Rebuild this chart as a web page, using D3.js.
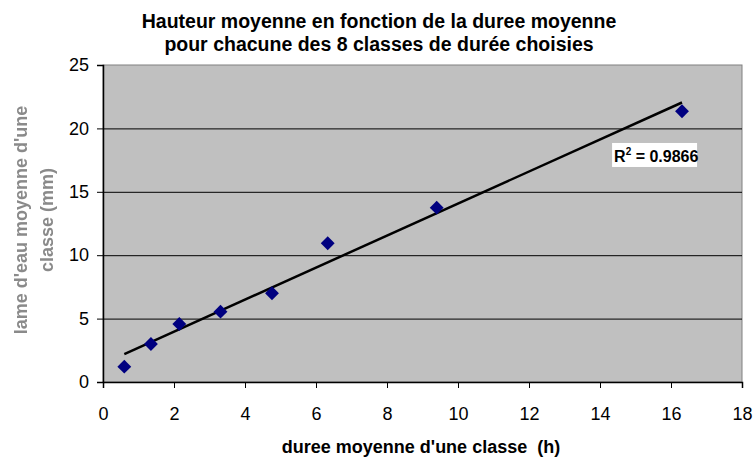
<!DOCTYPE html>
<html>
<head>
<meta charset="utf-8">
<script src="https://cdn.jsdelivr.net/npm/d3@7"></script>
<style>
  body { margin: 0; background: #fff; }
  text { font-family: "Liberation Sans", Arial, sans-serif; }
</style>
</head>
<body>
<svg id="chart" width="754" height="457"></svg>
<script>
// durée moyenne (h) et lame d'eau moyenne (mm) des 8 classes
var durees = [0.60, 1.35, 2.15, 3.31, 4.76, 6.33, 9.40, 16.31];
var hauteurs = [1.21, 3.0, 4.57, 5.55, 7.0, 10.94, 13.75, 21.35];
var xTicks = [0, 2, 4, 6, 8, 10, 12, 14, 16, 18];
var yTicks = [0, 5, 10, 15, 20, 25];
var r2Label = "0.9866";

var width = 754, height = 457;
var margin = {top: 65, right: 12, bottom: 75, left: 103};

var svg = d3.select("#chart");

var x = d3.scaleLinear().domain([0, 18]).range([margin.left, width - margin.right]);
var y = d3.scaleLinear().domain([0, 25]).range([height - margin.bottom, margin.top]);

var data = durees.map(function(d, i) { return {x: d, y: hauteurs[i]}; });

// blur for the grey y label
svg.append("defs").append("filter").attr("id", "blur")
  .append("feGaussianBlur").attr("stdDeviation", 0.7);

// plot area
svg.append("rect")
  .attr("x", x(0)).attr("y", y(25))
  .attr("width", x(18) - x(0)).attr("height", y(0) - y(25))
  .attr("fill", "#c0c0c0")
  .attr("stroke", "#808080");

// gridlines
svg.append("g")
  .selectAll("line").data(yTicks.filter(function(d) { return d > 0 && d < 25; })).enter().append("line")
    .attr("x1", x(0)).attr("x2", x(18))
    .attr("y1", function(d) { return y(d) + 0.5; })
    .attr("y2", function(d) { return y(d) + 0.5; })
    .attr("stroke", "#000").attr("stroke-width", 1);

// axes
var xAxis = svg.append("g")
  .attr("transform", "translate(0," + y(0) + ")")
  .call(d3.axisBottom(x).tickValues(xTicks).tickSize(6).tickSizeOuter(6).tickPadding(19))
xAxis.select(".domain").attr("stroke", "#000").attr("stroke-width", 1.5);
xAxis.selectAll("text").attr("font-size", 18).attr("fill", "#000");

var yAxis = svg.append("g")
  .attr("transform", "translate(" + x(0) + ",0)")
  .call(d3.axisLeft(y).tickValues(yTicks).tickSize(6).tickSizeOuter(6).tickPadding(8))
yAxis.select(".domain").attr("stroke", "#000").attr("stroke-width", 1.5);
yAxis.selectAll("text").attr("font-size", 18).attr("fill", "#000");

// linear trend line (least squares)
var mx = d3.mean(durees), my = d3.mean(hauteurs);
var slope = d3.sum(data, function(d) { return (d.x - mx) * (d.y - my); }) /
            d3.sum(data, function(d) { return (d.x - mx) * (d.x - mx); });
var intercept = my - slope * mx;
var ext = d3.extent(durees);

svg.append("line")
  .attr("x1", x(ext[0])).attr("y1", y(intercept + slope * ext[0]))
  .attr("x2", x(ext[1])).attr("y2", y(intercept + slope * ext[1]))
  .attr("stroke", "#000").attr("stroke-width", 2.5);

// points
svg.append("g")
  .attr("fill", "#000080")
  .selectAll("path").data(data).enter().append("path")
    .attr("d", d3.symbol(d3.symbolSquare, 96))
    .attr("transform", function(d) { return "translate(" + x(d.x) + "," + y(d.y) + ") rotate(45)"; });

// R² label
var rg = svg.append("g").attr("transform", "translate(" + x(14.34) + "," + y(18.85) + ")");
rg.append("rect").attr("width", 85).attr("height", 24).attr("fill", "#fff");
var rt = rg.append("text").attr("x", 2).attr("y", 19)
  .attr("font-size", 16).attr("font-weight", "bold").attr("fill", "#000");
rt.append("tspan").text("R");
rt.append("tspan").attr("font-size", 10).attr("dy", -7).text("2");
rt.append("tspan").attr("dy", 7).text(" = " + r2Label);

// title
var title = svg.append("text")
  .attr("text-anchor", "middle")
  .attr("font-size", 19.5).attr("font-weight", "bold");
title.append("tspan").attr("x", 379).attr("y", 28).text("Hauteur moyenne en fonction de la duree moyenne");
title.append("tspan").attr("x", 379).attr("y", 51).text("pour chacune des 8 classes de durée choisies");

// x label
svg.append("text")
  .attr("x", 421).attr("y", 453)
  .attr("text-anchor", "middle")
  .attr("font-size", 18).attr("font-weight", "bold")
  .style("white-space", "pre")
  .text("duree moyenne d'une classe  (h)");

// y label
var yl = svg.append("text")
  .attr("transform", "translate(27,220) rotate(-90)")
  .attr("text-anchor", "middle")
  .attr("font-size", 18).attr("font-weight", "bold")
  .attr("fill", "#8a8a8a")
  .attr("filter", "url(#blur)");
yl.append("tspan").attr("x", 0).attr("y", 0).text("lame d'eau moyenne d'une");
yl.append("tspan").attr("x", 0).attr("y", 26).text("classe (mm)");
</script>
</body>
</html>
